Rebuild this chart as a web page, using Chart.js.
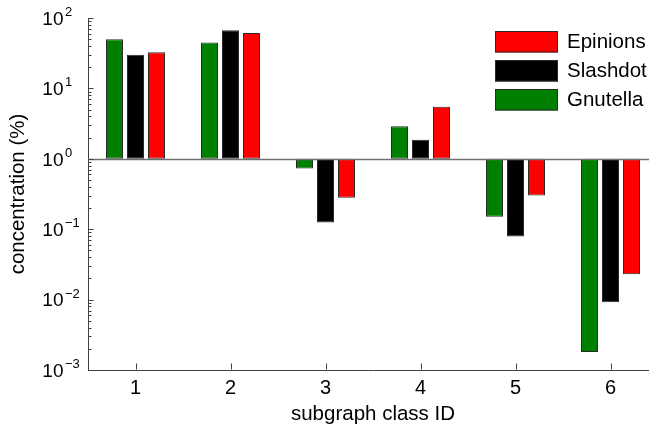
<!DOCTYPE html>
<html>
<head>
<meta charset="utf-8">
<title>Subgraph class concentration</title>
<script src="https://cdn.jsdelivr.net/npm/chart.js@4/dist/chart.umd.min.js"></script>
<style>
  html, body { margin: 0; padding: 0; background: #ffffff; overflow: hidden; }
  #wrap { position: absolute; left: 0; top: 0; width: 660px; height: 429px; }
</style>
</head>
<body>
<div id="wrap"><canvas id="chart" width="660" height="429"></canvas></div>
<script>
// Subgraph classes on the x axis
const classIds = ['1', '2', '3', '4', '5', '6'];

// Concentration (%) of each subgraph class per network
const gnutella = [50, 45, 0.73, 2.9, 0.15, 0.0018];
const slashdot = [30, 67, 0.125, 1.86, 0.079, 0.0092];
const epinions = [32.5, 61, 0.28, 5.5, 0.30, 0.023];

// Decade exponents labelled on the log axis
const decadeExponents = [-3, -2, -1, 0, 1, 2];

const FONT = '"Liberation Sans", Arial, Helvetica, sans-serif';
const AXIS_INK = '#404040';

// Bars grow up or down from the reference level of 1 %
const fromOne = values => values.map(v => [1, v]);

const barStyle = {
  borderWidth: 1,
  borderColor: '#2a2a2a',
  borderSkipped: false,
  categoryPercentage: 0.663,
  barPercentage: 0.81
};

const decorations = {
  id: 'decorations',
  afterDatasetsDraw(chart) {
    const { ctx, chartArea: a, scales: { x, y } } = chart;
    ctx.save();

    // reference line at 10^0
    const y1 = Math.round(y.getPixelForValue(1)) + 0.5;
    ctx.strokeStyle = '#707070';
    ctx.lineWidth = 1.5;
    ctx.beginPath();
    ctx.moveTo(a.left, y1);
    ctx.lineTo(a.right, y1);
    ctx.stroke();

    // inward tick marks on the value axis (major decades + minor 2..9)
    ctx.strokeStyle = AXIS_INK;
    ctx.lineWidth = 1;
    const ax = Math.round(a.left) + 0.5;
    for (let i = 0; i < decadeExponents.length; i++) {
      const e = decadeExponents[i];
      const py = Math.round(y.getPixelForValue(Math.pow(10, e))) + 0.5;
      ctx.beginPath();
      ctx.moveTo(ax, py);
      ctx.lineTo(ax + 5, py);
      ctx.stroke();
      if (i < decadeExponents.length - 1) {
        for (let m = 2; m <= 9; m++) {
          const my = Math.round(y.getPixelForValue(m * Math.pow(10, e))) + 0.5;
          ctx.beginPath();
          ctx.moveTo(ax, my);
          ctx.lineTo(ax + 3, my);
          ctx.stroke();
        }
      }
    }

    // inward tick marks on the category axis
    const by = Math.round(a.bottom) - 0.5;
    classIds.forEach((_, i) => {
      const px = Math.round(x.getPixelForValue(i)) + 0.5;
      ctx.beginPath();
      ctx.moveTo(px, by);
      ctx.lineTo(px, by - 6);
      ctx.stroke();
    });

    // decade labels written as 10 with a raised exponent
    ctx.fillStyle = '#000000';
    ctx.textBaseline = 'alphabetic';
    decadeExponents.forEach(e => {
      const py = y.getPixelForValue(Math.pow(10, e));
      ctx.font = '19px ' + FONT;
      ctx.textAlign = 'right';
      ctx.fillText('10', 63.5, py + 6.8);
      ctx.font = '13px ' + FONT;
      ctx.textAlign = 'left';
      const exp = e < 0 ? '\u2212' + Math.abs(e) : String(e);
      ctx.fillText(exp, 65, py - 2);
    });

    // legend, listed from the last series to the first
    const items = chart.data.datasets.slice().reverse();
    ctx.font = '20.5px ' + FONT;
    ctx.textBaseline = 'middle';
    ctx.textAlign = 'left';
    items.forEach((ds, i) => {
      const top = 31 + i * 29;
      ctx.fillStyle = ds.backgroundColor;
      ctx.fillRect(495, top, 63, 21.5);
      ctx.strokeStyle = '#2a2a2a';
      ctx.lineWidth = 1;
      ctx.strokeRect(495.5, top + 0.5, 62, 20.5);
      ctx.fillStyle = '#000000';
      ctx.fillText(ds.label, 567, top + 11.5);
    });

    ctx.restore();
  }
};

new Chart(document.getElementById('chart'), {
  type: 'bar',
  data: {
    labels: classIds,
    datasets: [
      Object.assign({ label: 'Gnutella', data: fromOne(gnutella), backgroundColor: '#008000' }, barStyle),
      Object.assign({ label: 'Slashdot', data: fromOne(slashdot), backgroundColor: '#000000' }, barStyle),
      Object.assign({ label: 'Epinions', data: fromOne(epinions), backgroundColor: '#ff0000' }, barStyle)
    ]
  },
  options: {
    responsive: false,
    devicePixelRatio: 1,
    animation: false,
    layout: { padding: { left: 0, top: 18, right: 2, bottom: 0 } },
    plugins: {
      legend: { display: false },
      tooltip: { enabled: false }
    },
    scales: {
      x: {
        type: 'category',
        offset: true,
        grid: { display: false },
        border: { display: true, color: AXIS_INK, width: 1 },
        ticks: {
          color: '#000000',
          padding: -2,
          font: { family: FONT, size: 20 },
          maxRotation: 0,
          autoSkip: false
        },
        title: {
          display: true,
          text: 'subgraph class ID',
          color: '#000000',
          font: { family: FONT, size: 20.5 },
          padding: { top: 0, bottom: 2 }
        },
        afterFit(scale) { scale.height = 59; }
      },
      y: {
        type: 'logarithmic',
        min: 0.001,
        max: 100,
        grid: { display: false },
        border: { display: true, color: AXIS_INK, width: 1 },
        ticks: { display: false },
        title: {
          display: true,
          text: 'concentration (%)',
          color: '#000000',
          font: { family: FONT, size: 20.5 },
          padding: { top: 6, bottom: 0 }
        },
        afterFit(scale) { scale.width = 88; }
      }
    }
  },
  plugins: [decorations]
});
</script>
</body>
</html>
